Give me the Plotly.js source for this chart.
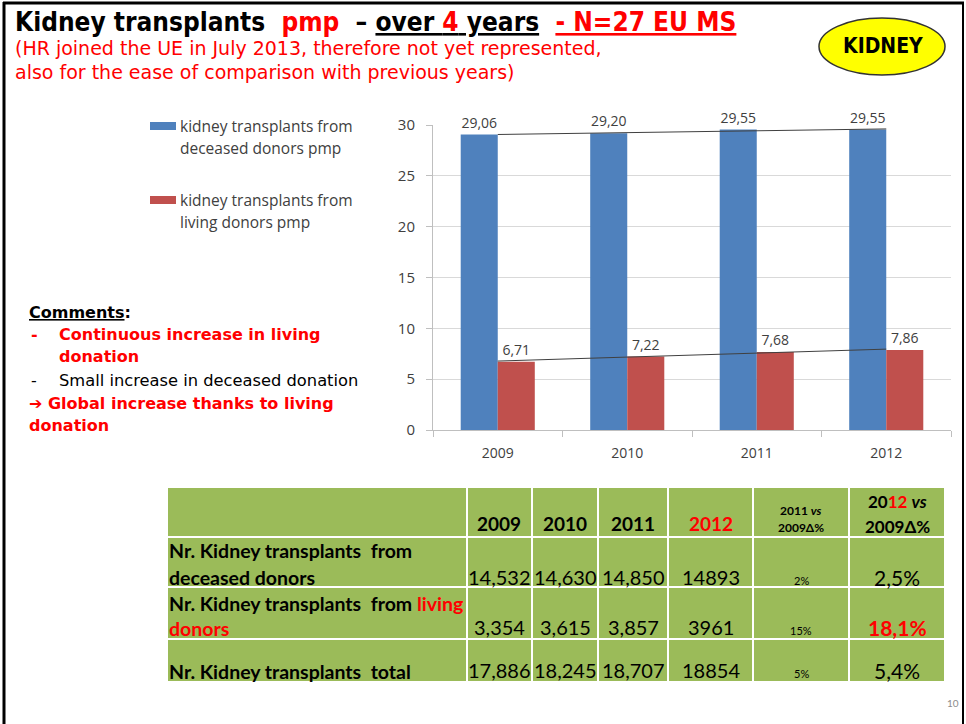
<!DOCTYPE html>
<html><head><meta charset="utf-8">
<script src="https://cdn.plot.ly/plotly-3.0.1.min.js"></script>
<style>html,body{margin:0;padding:0;background:#fff}#chart{width:966px;height:724px}</style>
</head><body><div id="chart"></div>
<script>
// ---------- data ----------
const categories = ['2009', '2010', '2011', '2012'];
const deceasedPmp = [29.06, 29.20, 29.55, 29.55];
const livingPmp = [6.71, 7.22, 7.68, 7.86];
const seriesNames = ['kidney transplants from deceased donors pmp', 'kidney transplants from living donors pmp'];
const legendLines = [['kidney transplants from', 'deceased donors pmp'], ['kidney transplants from', 'living donors pmp']];

const tableYears = ['2009', '2010', '2011', '2012'];
const deceasedCounts = ['14,532', '14,630', '14,850', '14893'];
const livingCounts = ['3,354', '3,615', '3,857', '3961'];
const totalCounts = ['17,886', '18,245', '18,707', '18854'];
const change2011vs2009 = ['2%', '15%', '5%'];
const change2012vs2009 = ['2,5%', '18,1%', '5,4%'];

// ---------- helpers ----------
const W = 966, H = 724;
const px = x => x / W;
const py = y => 1 - y / H;
const RED = '#FF0000';
const annotations = [];
const shapes = [];
function txt(text, x, y, o) {
  o = o || {};
  annotations.push({
    xref: 'paper', yref: 'paper', x: px(x), y: py(y), text: text, showarrow: false,
    xanchor: o.xa || 'left', yanchor: o.ya || 'middle',
    font: {family: o.family || 'Lato', size: o.size || 15, color: o.color || '#000'}
  });
}
function rect(x0, y0, x1, y1, fill, line, lw) {
  shapes.push({type: 'rect', xref: 'paper', yref: 'paper', x0: px(x0), x1: px(x1), y0: py(y1), y1: py(y0),
    fillcolor: fill, line: {color: line || fill, width: lw === undefined ? 0 : lw}, layer: 'above'});
}
function linearFitEnds(vals) {
  const n = vals.length;
  const mx = (n - 1) / 2;
  const my = vals.reduce((a, b) => a + b, 0) / n;
  let sxy = 0, sxx = 0;
  vals.forEach((v, i) => { sxy += (i - mx) * (v - my); sxx += (i - mx) * (i - mx); });
  const b = sxy / sxx, a = my - b * mx;
  return [a, a + b * (n - 1)];
}

// ---------- slide frame ----------
shapes.push({type: 'line', xref: 'paper', yref: 'paper', x0: px(4), x1: px(4), y0: 0, y1: py(2), line: {color: '#000', width: 3}});
shapes.push({type: 'line', xref: 'paper', yref: 'paper', x0: px(3), x1: px(964), y0: py(3), y1: py(3), line: {color: '#000', width: 3}});
shapes.push({type: 'line', xref: 'paper', yref: 'paper', x0: px(963), x1: px(963), y0: 0, y1: py(2), line: {color: '#000', width: 2}});

// ---------- title ----------
const TF = 'DejaVu Sans Condensed';
txt("<b>Kidney transplants  <span style='color:" + RED + "'>pmp</span>  – <u>over <span style='color:" + RED + "'>4</span> years</u>  <span style='color:" + RED + "'><u>- N=27 EU MS</u></span></b>", 13, 22, {size: 26, family: TF});
txt('(HR joined the UE in July 2013, therefore not yet represented,', 13, 48, {size: 19, color: RED, family: 'DejaVu Sans'});
txt('also for the ease of comparison with previous years)', 13, 72, {size: 19, color: RED, family: 'DejaVu Sans'});

// ---------- ellipse ----------
shapes.push({type: 'circle', xref: 'paper', yref: 'paper', x0: px(819), x1: px(945), y0: py(75), y1: py(18),
  fillcolor: '#FFFF00', line: {color: '#333', width: 1.5}});
txt('<b>KIDNEY</b>', 883, 46, {xa: 'center', size: 21, family: TF});

// ---------- legend (drawn) ----------
const legendColors = ['#4F81BD', '#C0504D'];
const legendTop = [126, 200];
legendLines.forEach((lines, i) => {
  rect(150, legendTop[i] - 4, 176, legendTop[i] + 4, legendColors[i]);
  txt(lines[0], 178, legendTop[i], {size: 15.5, color: '#404040', family: 'Open Sans'});
  txt(lines[1], 178, legendTop[i] + 22, {size: 15.5, color: '#404040', family: 'Open Sans'});
});

// ---------- comments ----------
const CF = 'DejaVu Sans';
txt('<b><u>Comments</u>:</b>', 27, 312, {size: 16, family: CF});
txt('<b>-</b>', 29, 334, {size: 16, color: RED, family: CF});
txt('<b>Continuous increase in living</b>', 57, 334, {size: 16, color: RED, family: CF});
txt('<b>donation</b>', 57, 356, {size: 16, color: RED, family: CF});
txt('-', 29, 380, {size: 16, family: CF});
txt('Small increase in deceased donation', 57, 380, {size: 16.3, family: CF});
txt('<b>➔ Global increase thanks to living</b>', 27, 403, {size: 16, color: RED, family: CF});
txt('<b>donation</b>', 27, 425, {size: 16, color: RED, family: CF});

// ---------- table ----------
const colEdges = [167, 467, 532, 598, 668, 753, 849, 945];
const rowEdges = [487, 537, 587, 639, 682];
for (let r = 0; r < 4; r++) for (let c = 0; c < 7; c++) {
  rect(colEdges[c], rowEdges[r], colEdges[c + 1], rowEdges[r + 1], '#9BBB59', '#FFFFFF', 2);
}
const cx = c => (colEdges[c] + colEdges[c + 1]) / 2;
tableYears.forEach((yr, i) => {
  txt('<b>' + yr + '</b>', cx(i + 1), 523, {xa: 'center', size: 19, color: i === 3 ? RED : '#000'});
});
txt('<b>2011 <i>vs</i></b>', cx(5), 510, {xa: 'center', size: 12});
txt('<b>2009Δ%</b>', cx(5), 527, {xa: 'center', size: 12});
txt("<b>20<span style='color:" + RED + "'>12</span> <i>vs</i></b>", cx(6), 501, {xa: 'center', size: 17});
txt('<b>2009Δ%</b>', cx(6), 526, {xa: 'center', size: 17});

txt('<b>Nr. Kidney transplants  from</b>', 167, 550, {size: 19.5});
txt('<b>deceased donors</b>', 167, 577, {size: 19.5});
txt("<b>Nr. Kidney transplants  from <span style='color:" + RED + "'>living</span></b>", 167, 603, {size: 19.5});
txt("<b><span style='color:" + RED + "'>donors</span></b>", 167, 628, {size: 19.5});
txt('<b>Nr. Kidney transplants  total</b>', 167, 671, {size: 19.5});

const rowYs = [577, 627, 670];
[deceasedCounts, livingCounts, totalCounts].forEach((vals, r) => {
  vals.forEach((v, c) => txt(v, cx(c + 1), rowYs[r], {xa: 'center', size: 20}));
  txt(change2011vs2009[r], cx(5), rowYs[r] + 3, {xa: 'center', size: 11});
  txt(r === 1 ? '<b>' + change2012vs2009[r] + '</b>' : change2012vs2009[r], cx(6), rowYs[r], {xa: 'center', size: 21, color: r === 1 ? RED : '#000'});
});

txt('10', 953, 703, {xa: 'center', size: 10, color: '#8C8C8C'});

// ---------- chart ----------
const xi = categories.map((c, i) => i);
const blueFit = linearFitEnds(deceasedPmp);
const redFit = linearFitEnds(livingPmp);
const barW = 0.286;
const traces = [
  {type: 'bar', name: seriesNames[0], x: xi, y: deceasedPmp, width: barW, offset: -barW,
    marker: {color: '#4F81BD'}, texttemplate: '%{y:.2f}', textposition: 'outside', cliponaxis: false,
    textfont: {family: 'Open Sans', size: 14, color: '#404040'}, showlegend: false},
  {type: 'bar', name: seriesNames[1], x: xi, y: livingPmp, width: barW, offset: 0,
    marker: {color: '#C0504D'}, texttemplate: '%{y:.2f}', textposition: 'outside', cliponaxis: false,
    textfont: {family: 'Open Sans', size: 14, color: '#404040'}, showlegend: false},
  {type: 'scatter', mode: 'lines', x: [0, categories.length - 1], y: blueFit, line: {color: '#404040', width: 1}, showlegend: false, hoverinfo: 'skip'},
  {type: 'scatter', mode: 'lines', x: [0, categories.length - 1], y: redFit, line: {color: '#404040', width: 1}, showlegend: false, hoverinfo: 'skip'}
];

const layout = {
  width: W, height: H, margin: {l: 0, r: 0, t: 0, b: 0},
  paper_bgcolor: '#fff', plot_bgcolor: '#fff',
  separators: ',.',
  font: {family: 'Open Sans', color: '#404040'},
  showlegend: false,
  barmode: 'overlay',
  xaxis: {domain: [px(433), px(951)], range: [-0.5, 3.5], tickmode: 'array', tickvals: xi, ticktext: categories,
    showgrid: false, zeroline: false, showline: true, linecolor: '#BFBFBF', linewidth: 1, ticks: '',
    tickfont: {family: 'Open Sans', size: 14, color: '#404040'}, ticklabelstandoff: 10,
    minor: {tickmode: 'array', tickvals: [-0.5, 0.5, 1.5, 2.5, 3.5], ticks: 'outside', ticklen: 6, tickcolor: '#BFBFBF', showgrid: false},
    fixedrange: true},
  yaxis: {domain: [py(430), py(125)], range: [0, 30], dtick: 5, tick0: 0, showgrid: true, gridcolor: '#D9D9D9',
    zeroline: false, showline: true, linecolor: '#BFBFBF', ticks: 'outside', ticklen: 6, tickcolor: '#BFBFBF',
    tickfont: {family: 'Open Sans', size: 15, color: '#404040'}, ticklabelstandoff: 8, fixedrange: true},
  annotations: annotations,
  shapes: shapes
};
Plotly.newPlot('chart', traces, layout, {displayModeBar: false, staticPlot: true});
</script></body></html>
